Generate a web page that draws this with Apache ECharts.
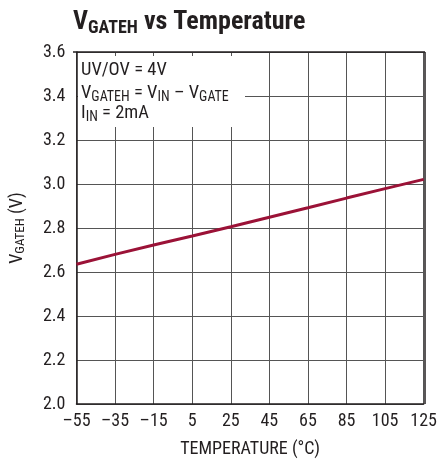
<!DOCTYPE html>
<html><head><meta charset="utf-8">
<script src="https://cdn.jsdelivr.net/npm/echarts@6/dist/echarts.min.js"></script>
<style>html,body{margin:0;padding:0;background:#fff}#c{width:440px;height:463px}</style>
</head><body><div id="c"></div>
<script>
const temperatures = ['-55','-35','-15','5','25','45','65','85','105','125'];
const vgateh = [2.635, 2.680, 2.723, 2.764, 2.806, 2.849, 2.892, 2.936, 2.979, 3.021];
const yTicks = [2.0, 2.2, 2.4, 2.6, 2.8, 3.0, 3.2, 3.4, 3.6];

const FONT = '"Liberation Sans Narrow", "Roboto Condensed", "Arial Narrow", Roboto, sans-serif';
const chart = echarts.init(document.getElementById('c'));
chart.setOption({
  animation: false,
  backgroundColor: '#fff',
  title: {
    text: '{v|V}{s|GATEH}{v| vs Temperature}',
    left: 68, top: 3,
    textStyle: {
      rich: {
        v: {fontFamily: FONT, fontSize: 26, fontWeight: 'bold', color: '#231f20'},
        s: {fontFamily: FONT, fontSize: 18, fontWeight: 'bold', color: '#231f20', verticalAlign: 'bottom', padding: [11,0,0,0]}
      }
    }
  },
  grid: {left: 73, right: 15, top: 52, bottom: 59},
  xAxis: {
    type: 'category', data: temperatures, boundaryGap: false,
    axisLine: {show: true, lineStyle: {color: '#231f20', width: 1.5}},
    axisTick: {show: false},
    splitLine: {show: true, lineStyle: {color: '#555', width: 1}},
    axisLabel: {fontFamily: FONT, fontSize: 18, color: '#231f20', margin: 8,
      formatter: v => v.replace('-', '\u2013')},
    name: 'TEMPERATURE (°C)', nameLocation: 'middle', nameGap: 36,
    nameTextStyle: {fontFamily: FONT, fontSize: 18, color: '#231f20'}
  },
  yAxis: {
    type: 'value', min: 2.0, max: 3.6, interval: 0.2,
    axisLine: {show: true, lineStyle: {color: '#231f20', width: 1.5}},
    axisTick: {show: false},
    splitLine: {show: true, lineStyle: {color: '#555', width: 1}},
    axisLabel: {fontFamily: FONT, fontSize: 18, color: '#231f20', margin: 11,
      formatter: v => v.toFixed(1)},
    name: '{v|V}{s|GATEH}{v| (V)}', nameLocation: 'middle', nameGap: 49, nameRotate: 90,
    nameTextStyle: {
      rich: {
        v: {fontFamily: FONT, fontSize: 18, color: '#231f20'},
        s: {fontFamily: FONT, fontSize: 13, color: '#231f20', verticalAlign: 'bottom', padding: [8,0,0,0]}
      }
    }
  },
  graphic: [
    {type: 'rect', shape: {x: 78, y: 56, width: 167, height: 71}, style: {fill: '#fff'}, z: 100},
    {type: 'line', shape: {x1: 425, y1: 52, x2: 425, y2: 404}, style: {stroke: '#231f20', lineWidth: 1.5}, z: 101},
    {type: 'line', shape: {x1: 73, y1: 52, x2: 425, y2: 52}, style: {stroke: '#231f20', lineWidth: 1.5}, z: 101},
    {type: 'text', x: 81, y: 61, z: 102, style: {
      text: '{v|UV/OV = 4V}', rich: {v: {fontFamily: FONT, fontSize: 18.5, fill: '#231f20'}}}},
    {type: 'text', x: 81, y: 83, z: 102, style: {
      text: '{v|V}{s|GATEH}{v| = V}{s|IN}{v| \u2013 V}{s|GATE}',
      rich: {v: {fontFamily: FONT, fontSize: 18.5, fill: '#231f20'},
             s: {fontFamily: FONT, fontSize: 14, fill: '#231f20', verticalAlign: 'bottom', padding: [7,0,0,0]}}}},
    {type: 'text', x: 81, y: 103, z: 102, style: {
      text: '{v|I}{s|IN}{v| = 2mA}',
      rich: {v: {fontFamily: FONT, fontSize: 18.5, fill: '#231f20'},
             s: {fontFamily: FONT, fontSize: 14, fill: '#231f20', verticalAlign: 'bottom', padding: [7,0,0,0]}}}}
  ],
  series: [{
    type: 'line', data: vgateh, symbol: 'none', smooth: false,
    lineStyle: {color: '#9b1237', width: 3}, z: 5
  }]
});
</script></body></html>
